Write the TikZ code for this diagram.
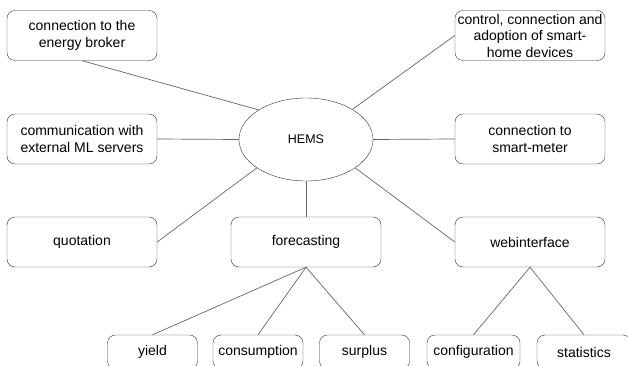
\documentclass[tikz,border=0pt]{standalone}
\usepackage{fontspec}
\setmainfont{Liberation Sans}
\usetikzlibrary{
    shapes,
    positioning,
    calc
}

\begin{document}
\begin{tikzpicture}[x=1pt, y=-1pt, text-node/.style={
                rectangle, draw=black!80, rounded corners=8pt, align=center, inner sep=2pt,
                minimum width=150pt, minimum height=50pt, font=\fontsize{14}{16.5}\selectfont},
                leaf-node/.style={text-node, minimum width=90pt, minimum height=34pt},
                link/.style={draw=black!60, line width=0.7pt}]
                \useasboundingbox (0,0) rectangle (628,366);
                \clip (0,0) rectangle (628,366);
                \node[ellipse, draw=black!80, minimum width=134pt, minimum height=83pt, inner sep=0pt,
                      font=\fontsize{12.5}{15}\selectfont] (hems) at (306,139.5) {HEMS};
                \node[text-node] (broker) at (82,35.5) {connection to the\\energy broker};
                \node[text-node] (mlserver) at (82,139) {communication with\\external ML servers};
                \node[text-node] (quotation) at (82,242) {quotation};
                \node[text-node] (smarthome) at (530,35.5) {control, connection and\\adoption of smart-\\home devices};
                \node[text-node] (smartmeter) at (530,139) {connection to\\smart-meter};
                \node[text-node] (forecasting) at (306,242) {forecasting};
                \node[text-node] (webinterface) at (530,242) {webinterface};
                \node[leaf-node] (yield) at (152.5,352) {yield};
                \node[leaf-node] (consumption) at (258,352) {consumption};
                \node[leaf-node] (surplus) at (364.5,352) {surplus};
                \node[leaf-node, minimum width=93pt] (configuration) at (473.5,352) {configuration};
                \node[leaf-node, minimum width=94pt] (statistics) at (584,352) {statistics};
                \draw[link] (broker.south) -- (hems.148);
                \draw[link] (mlserver.east) -- (hems.west);
                \draw[link] (quotation.east) -- (hems.210);
                \draw[link] (smarthome.west) -- (hems.33);
                \draw[link] (smartmeter.west) -- (hems.east);
                \draw[link] (webinterface.west) -- (hems.330);
                \draw[link] (forecasting.north) -- (hems.south);
                \draw[link] (forecasting.south) -- (yield.north);
                \draw[link] (forecasting.south) -- (consumption.north);
                \draw[link] (forecasting.south) -- (surplus.north);
                \draw[link] (webinterface.south) -- (configuration.north);
                \draw[link] (webinterface.south) -- (statistics.north);
            \end{tikzpicture}
\end{document}
